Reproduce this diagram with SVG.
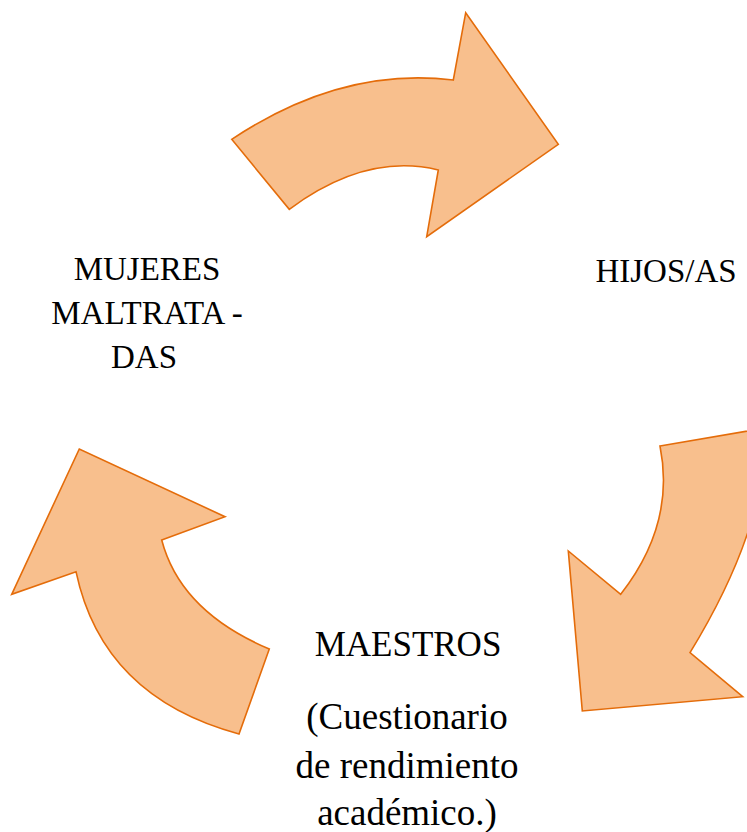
<svg xmlns="http://www.w3.org/2000/svg" width="747" height="832" viewBox="0 0 747 832">
<style>
.arrow{fill:#F8BF8D;stroke:#E46C0A;stroke-width:1.6;stroke-linejoin:miter}
text{font-family:'Liberation Serif','Times New Roman',serif;font-size:33px;fill:#000;text-anchor:middle}
.big{font-size:35px}
.note{font-size:37px}
</style>
<rect width="747" height="832" fill="#fff"/>
<g id="connectors">
<path id="arrow-top" class="arrow" d="M231.7,139.3 Q341.5,66.3 453.3,80 L465.7,12.7 L558.3,144.3 L426.7,236.7 L438.3,170 Q366.2,152.3 289.3,209.3 Z"/>
<path id="arrow-right" class="arrow" d="M660,446 L765,428 Q768,525 690,652.7 L742.7,696.7 L582.3,711 L568.3,551 L620.7,594.3 Q675.7,523.8 660,446 Z"/>
<path id="arrow-left" class="arrow" d="M239,734 Q102.5,697.2 76,571.7 L11.7,594.3 L79.3,449 L225,516.7 L161.7,540 Q180.5,611.5 269.3,649 Z"/>
</g>
<g id="node-mujeres">
<text x="147" y="279.5">MUJERES</text>
<text x="147" y="324">MALTRATA -</text>
<text x="144" y="368">DAS</text>
</g>
<g id="node-hijos">
<text x="666" y="281.7">HIJOS/AS</text>
</g>
<g id="node-maestros">
<text class="big" x="408" y="656">MAESTROS</text>
<text class="note" x="407" y="729">(Cuestionario</text>
<text class="note" x="407" y="778">de rendimiento</text>
<text class="note" x="407" y="825">académico.)</text>
</g>
</svg>
